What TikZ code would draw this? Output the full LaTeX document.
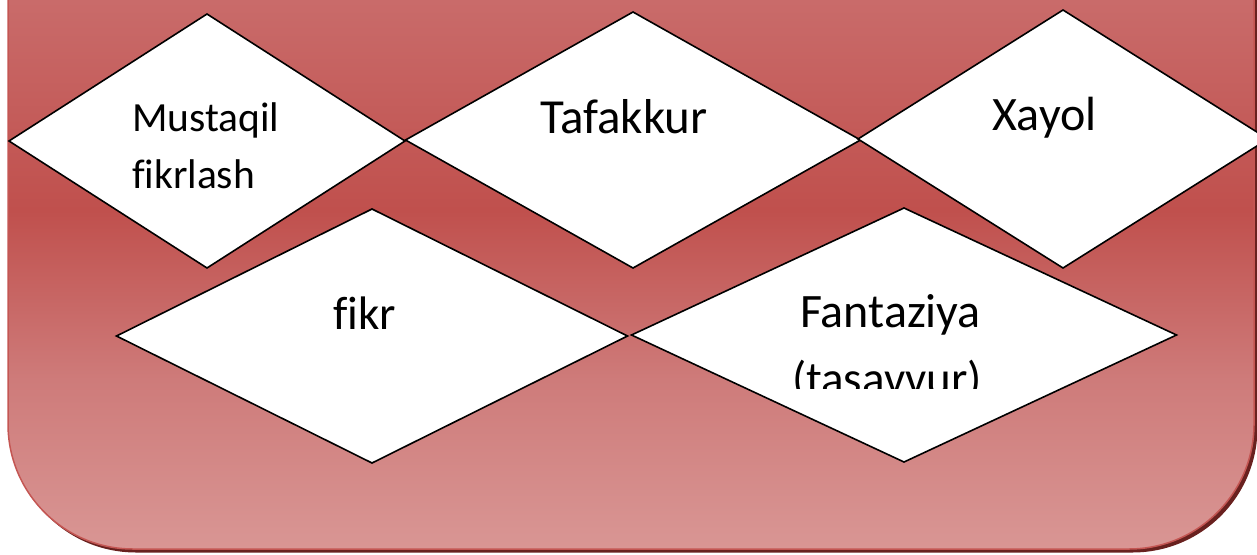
\documentclass[tikz,border=0pt]{standalone}
\usepackage{fontspec}
\setmainfont{Carlito}[Ligatures={NoCommon}]
\usetikzlibrary{shapes.geometric}
\definecolor{bgbot}{RGB}{217,150,148}
\definecolor{bglow}{RGB}{206,123,122}
\definecolor{bgmid}{RGB}{192,80,77}
\definecolor{bgtop}{RGB}{201,107,106}
\definecolor{bgsky}{RGB}{210,128,126}
\definecolor{rimcol}{RGB}{196,86,83}
\definecolor{shadowcol}{RGB}{105,33,31}
\pgfdeclareverticalshading{bgshade}{100bp}{color(0bp)=(bgbot); color(25bp)=(bgbot); color(36.3bp)=(bglow); color(47.6bp)=(bgmid); color(61.6bp)=(bgtop); color(75bp)=(bgsky); color(100bp)=(bgsky)}
\tikzset{
  dia/.style={diamond, draw=black, fill=white, line width=1.6pt, inner sep=0pt, outer sep=0pt, shape aspect=1.5},
  lbl/.style={anchor=base west, inner sep=0pt, outer sep=0pt},
  fs/.style={font=\fontsize{#1}{#1}\selectfont}
}
\begin{document}
\begin{tikzpicture}[x=1pt, y=-1pt]
\useasboundingbox (0,0) rectangle (1257,554);
% shadow and background panel
\fill[shadowcol, rounded corners=125pt] (11,-200) rectangle (1257.5,552.5);
\path[shading=bgshade, draw=rimcol, line width=1.5pt, rounded corners=125pt] (8,-200) rectangle (1254,549);
% diamonds
\node[dia, minimum width=396pt, minimum height=254pt] (d1) at (207,141) {};
\node[dia, minimum width=455pt, minimum height=256pt] (d2) at (633,140) {};
\node[dia, minimum width=410pt, minimum height=258pt] (d3) at (1063,139) {};
\node[dia, minimum width=511pt, minimum height=254pt] (d4) at (372,336) {};
\node[dia, minimum width=545pt, minimum height=254pt] (d5) at (904,335) {};
% labels
\node[lbl, fs=41.5] (t1a) at (132,131) {Mustaqil};
\node[lbl, fs=41.5] (t1b) at (132,188) {fikrlash};
\node[lbl, fs=49] (t2) at (540,133) {Tafakkur};
\node[lbl, fs=48] (t3) at (992,130) {Xayol};
\node[lbl, fs=47] (t4) at (333,329) {fikr};
\node[lbl, fs=48] (t5a) at (800,327) {Fantaziya};
\begin{scope}
\clip (700,340) rectangle (1100,388);
\node[lbl, fs=47] (t5b) at (792,394) {(tasavvur)};
\end{scope}
\end{tikzpicture}
\end{document}
